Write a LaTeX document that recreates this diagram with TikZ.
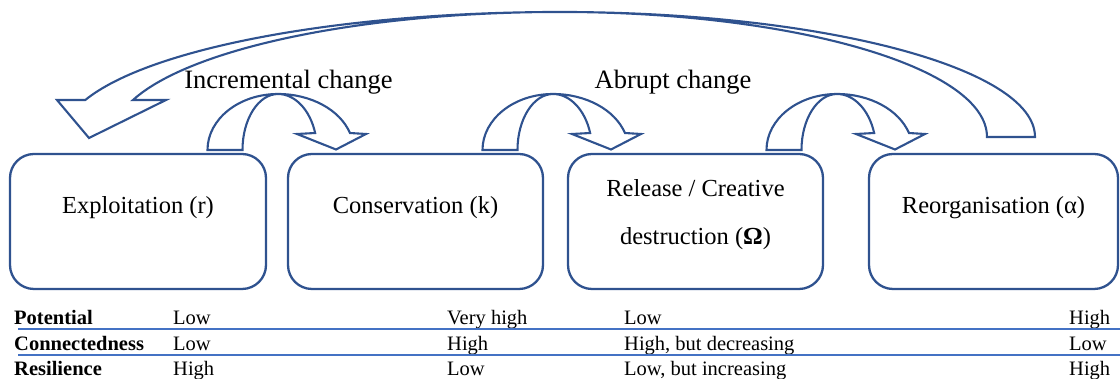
\documentclass[tikz,border=0pt]{standalone}
\usepackage{fontspec}
\setmainfont{Liberation Serif}
\definecolor{cycleblue}{RGB}{47,82,143}
\definecolor{ruleblue}{RGB}{68,114,196}
\begin{document}
\begin{tikzpicture}[x=1pt,y=1pt,
  phase/.style={draw=cycleblue, line width=2.3pt, rounded corners=24pt,
    minimum height=135pt, inner sep=0pt},
  phaselabel/.style={anchor=base, inner sep=0pt, font=\fontsize{24.5}{29}\selectfont},
  changelabel/.style={anchor=base, inner sep=0pt, font=\fontsize{26.5}{31}\selectfont},
  cell/.style={anchor=base west, inner sep=0pt, font=\fontsize{20.5}{24}\selectfont},
  rowhead/.style={cell, font=\fontsize{20.5}{24}\selectfont\bfseries},
  arrowline/.style={draw=cycleblue, line width=2.1pt, line join=miter},
  rowrule/.style={draw=ruleblue, line width=1.3pt},
  uturn/.pic={
    \draw[arrowline] (-70.5,0)
      arc[start angle=180, end angle=90, x radius=70.5, y radius=56]
      arc[start angle=90, end angle=17.67, x radius=75.5, y radius=56]
      -- (88,16) -- (58,0.5) -- (19,16) -- (37.16,16.99)
      arc[start angle=17.67, end angle=90, x radius=39, y radius=56]
      arc[start angle=90, end angle=180, x radius=35.5, y radius=56]
      -- cycle;
  },
  returnarrow/.pic={
    \draw[arrowline] (475,0)
      arc[start angle=0, end angle=90, x radius=475, y radius=125]
      arc[start angle=90, end angle=162.8, x radius=497, y radius=125]
      -- (-503,37) -- (-471,-1) -- (-394,37) -- (-427,37)
      arc[start angle=162.8, end angle=90, x radius=447, y radius=125]
      arc[start angle=90, end angle=0, x radius=427, y radius=125]
      -- cycle;
  }
]
\useasboundingbox (0,0) rectangle (1120,379);

% the four phases of the adaptive cycle
\node[phase, minimum width=256pt] (exploit)  at (138,157.5) {};
\node[phase, minimum width=255pt] (conserve) at (415.5,157.5) {};
\node[phase, minimum width=255pt] (release)  at (695.5,157.5) {};
\node[phase, minimum width=249pt] (reorg)    at (993.5,157.5) {};

\node[phaselabel] (exploitlbl)  at (138,165) {Exploitation (r)};
\node[phaselabel] (conservelbl) at (415.5,165) {Conservation (k)};
\node[phaselabel] (releaselbl1) at (695.5,182) {Release / Creative};
\node[phaselabel] (releaselbl2) at (695.5,134) {destruction (\textbf{Ω})};
\node[phaselabel] (reorglbl)    at (993.5,165) {Reorganisation (α)};

% transitions between phases
\pic (step1) at (278,229) {uturn};
\pic (step2) at (553,229) {uturn};
\pic (step3) at (837,229) {uturn};
\pic (back)  at (560,242) {returnarrow};

\node[changelabel] (incr)   at (288.5,290) {Incremental change};
\node[changelabel] (abrupt) at (673,290) {Abrupt change};

% properties of each phase
\node[rowhead] (potential) at (14,54) {Potential};
\node[rowhead] (connected) at (14,28) {Connectedness};
\node[rowhead] (resil)     at (14,3)  {Resilience};

\node[cell] (p1) at (173,54) {Low};
\node[cell] (c1) at (173,28) {Low};
\node[cell] (r1) at (173,3)  {High};
\node[cell] (p2) at (447,54) {Very high};
\node[cell] (c2) at (447,28) {High};
\node[cell] (r2) at (447,3)  {Low};
\node[cell] (p3) at (624,54) {Low};
\node[cell] (c3) at (624,28) {High, but decreasing};
\node[cell] (r3) at (624,3)  {Low, but increasing};
\node[cell] (p4) at (1069,54) {High};
\node[cell] (c4) at (1069,28) {Low};
\node[cell] (r4) at (1069,3)  {High};

\draw[rowrule] (18,50) -- (1120,50);
\draw[rowrule] (18,24) -- (1120,24);
\end{tikzpicture}
\end{document}
